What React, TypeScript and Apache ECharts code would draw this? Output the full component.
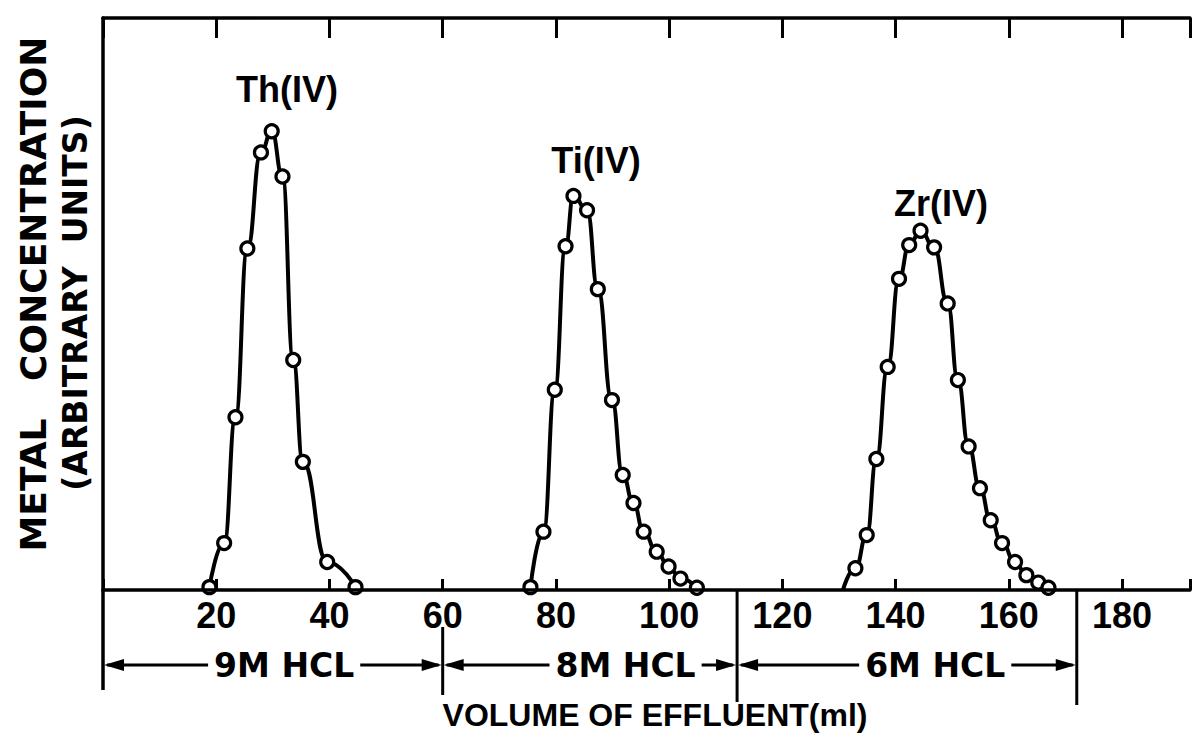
import React, { useEffect, useRef } from "react";
import * as echarts from "echarts";

// ---- data (volume of effluent in ml, concentration in arbitrary units) ----
const thVolume = [18.8, 21.4, 23.4, 25.5, 27.9, 29.8, 31.7, 33.6, 35.3, 39.6, 44.6];
const thConc = [0.5, 8.2, 30.2, 59.7, 76.5, 80.2, 72.3, 40.2, 22.4, 4.9, 0.5];

const tiVolume = [75.5, 77.8, 79.8, 81.7, 83.1, 85.5, 87.4, 89.9, 91.8, 93.7, 95.5, 97.8, 99.9, 102.0, 104.9];
const tiConc = [0.5, 10.2, 35.0, 60.1, 68.9, 66.4, 52.6, 33.2, 20.1, 15.2, 10.2, 6.7, 4.1, 2.0, 0.4];

const zrVolume = [130.7, 132.9, 134.9, 136.6, 138.6, 140.6, 142.4, 144.4, 146.8, 149.2, 151.0, 152.9, 154.9, 156.8, 158.8, 161.1, 163.1, 165.2, 167.0];
const zrConc = [0, 3.8, 9.6, 22.9, 39.0, 54.4, 60.3, 62.8, 59.9, 50.1, 36.7, 25.1, 17.8, 12.2, 8.2, 4.9, 2.6, 1.3, 0.4];

const xTickLabels = [20, 40, 60, 80, 100, 120, 140, 160, 180];
const peakNames = ["Th(IV)", "Ti(IV)", "Zr(IV)"];
const acidLabels = ["9M HCL", "8M HCL", "6M HCL"];
const acidBounds = [0, 60, 112, 172]; // ml
const yTitle1 = "METAL   CONCENTRATION";
const yTitle2 = "(ARBITRARY  UNITS)";
const xTitle = "VOLUME OF EFFLUENT(ml)";

// ---- layout (pixels / styling, not data) ----
const W = 1193;
const H = 749;
const GRID = { left: 103, right: 0, top: 18, bottom: 159 };
const X_MAX = 192;
const peakLabelPos = [
  [287, 89],
  [596, 160],
  [941, 203],
];
const acidLabelCenters = [32.0, 92.3, 147.0]; // ml positions of the acid labels
const dividerSpans = [
  [690, 690],
  [627, 695],
  [590, 702],
  [590, 705],
];
const ROW_Y = 665;

const DIGIT_FONT = "'Liberation Sans', Arial, sans-serif";
const TITLE_FONT = "'DejaVu Sans', 'Liberation Sans', sans-serif";

function pairs(xs: number[], ys: number[], hideFirst = false) {
  return xs.map((x, i) =>
    hideFirst && i === 0 ? { value: [x, ys[i]], symbol: "none" } : [x, ys[i]]
  );
}

function measure(text: string, font: string) {
  const c = document.createElement("canvas").getContext("2d");
  if (!c) return text.length * 20;
  c.font = font;
  return c.measureText(text).width;
}

export default function App() {
  const ref = useRef<HTMLDivElement>(null);

  useEffect(() => {
    const el = ref.current;
    if (!el) return;
    const chart = echarts.init(el, null, { renderer: "svg" });

    const lineSeries = (name: string, data: any[]) => ({
      type: "line",
      name,
      data,
      smooth: 0.5,
      smoothMonotone: "x",
      symbol: "circle",
      symbolSize: 13,
      showAllSymbol: true,
      clip: false,
      lineStyle: { color: "#000", width: 4 },
      itemStyle: { color: "#fff", borderColor: "#000", borderWidth: 3.2 },
      emphasis: { disabled: true },
      z: 3,
    });

    const axisCommon = {
      type: "value",
      min: 0,
      max: X_MAX,
      interval: 20,
      splitLine: { show: false },
      axisLine: { show: true, onZero: false, lineStyle: { color: "#000", width: 3.5 } },
    };

    chart.setOption({
      animation: false,
      backgroundColor: "#fff",
      grid: { ...GRID, containLabel: false },
      xAxis: [
        {
          ...axisCommon,
          position: "bottom",
          z: 10,
          axisTick: { show: true, inside: true, length: 11, lineStyle: { color: "#000", width: 3 } },
          axisLabel: {
            show: true,
            margin: 7,
            color: "#000",
            fontSize: 36,
            fontWeight: "bold",
            fontFamily: DIGIT_FONT,
            showMinLabel: true,
            showMaxLabel: true,
            formatter: (v: number) => (xTickLabels.indexOf(v) >= 0 ? String(v) : ""),
          },
        },
        {
          ...axisCommon,
          position: "top",
          axisTick: { show: true, inside: true, length: 20, lineStyle: { color: "#000", width: 3 } },
          axisLabel: { show: false },
        },
      ],
      yAxis: {
        type: "value",
        min: 0,
        max: 100,
        axisLine: { show: true, lineStyle: { color: "#000", width: 3.5 } },
        axisTick: { show: false },
        axisLabel: { show: false },
        splitLine: { show: false },
      },
      series: [
        lineSeries(peakNames[0], pairs(thVolume, thConc)),
        lineSeries(peakNames[1], pairs(tiVolume, tiConc)),
        lineSeries(peakNames[2], pairs(zrVolume, zrConc, true)),
      ],
    });

    const px = (v: number) => chart.convertToPixel({ xAxisIndex: 0 }, v) as number;
    const y0 = chart.convertToPixel({ yAxisIndex: 0 }, 0) as number;

    const g: any[] = [];
    const line = (x1: number, y1: number, x2: number, y2: number, w = 3) =>
      g.push({
        type: "line",
        shape: { x1, y1, x2, y2 },
        style: { stroke: "#000", lineWidth: w },
        silent: true,
      });
    const arrowHead = (x: number, y: number, dir: number) =>
      g.push({
        type: "polygon",
        shape: {
          points: [
            [x, y],
            [x - dir * 20, y - 6],
            [x - dir * 20, y + 6],
          ],
        },
        style: { fill: "#000" },
        silent: true,
      });
    const text = (t: string, x: number, y: number, font: string, size: number, rotation = 0) =>
      g.push({
        type: "text",
        x,
        y,
        rotation,
        silent: true,
        style: {
          text: t,
          fill: "#000",
          fontSize: size,
          fontWeight: "bold",
          fontFamily: font,
          align: "center",
          verticalAlign: "middle",
          textAlign: "center",
          textVerticalAlign: "middle",
        },
      });

    // left axis extension below the x-axis and the acid dividers
    acidBounds.forEach((b, i) => {
      const x = px(b);
      const [ya, yb] = dividerSpans[i];
      if (i === 0) line(x, y0, x, ya, 3.5);
      else line(x, ya, x, yb, 3);
    });

    // acid labels with arrows
    const acidFontSize = 33;
    acidLabels.forEach((lab, i) => {
      const cx = px(acidLabelCenters[i]);
      const w = measure(lab, `bold ${acidFontSize}px 'DejaVu Sans'`);
      const left = px(acidBounds[i]);
      const right = px(acidBounds[i + 1]);
      const tl = cx - w / 2 - 6;
      const tr = cx + w / 2 + 6;
      line(left + 4, ROW_Y, tl, ROW_Y);
      arrowHead(left + 1, ROW_Y, -1);
      line(tr, ROW_Y, right - 4, ROW_Y);
      arrowHead(right - 1, ROW_Y, 1);
      text(lab, cx, ROW_Y, TITLE_FONT, acidFontSize);
    });

    // peak labels
    peakNames.forEach((n, i) => text(n, peakLabelPos[i][0], peakLabelPos[i][1], DIGIT_FONT, 36));

    // axis titles
    text(yTitle1, 33, 294, TITLE_FONT, 36, Math.PI / 2);
    text(yTitle2, 75, 303, TITLE_FONT, 33, Math.PI / 2);
    text(xTitle, 655, 715, DIGIT_FONT, 32);

    chart.setOption({ graphic: { elements: g } });

    return () => chart.dispose();
  }, []);

  return (
    <div
      ref={ref}
      style={{ position: "fixed", left: 0, top: 0, width: W, height: H, background: "#fff" }}
    />
  );
}
